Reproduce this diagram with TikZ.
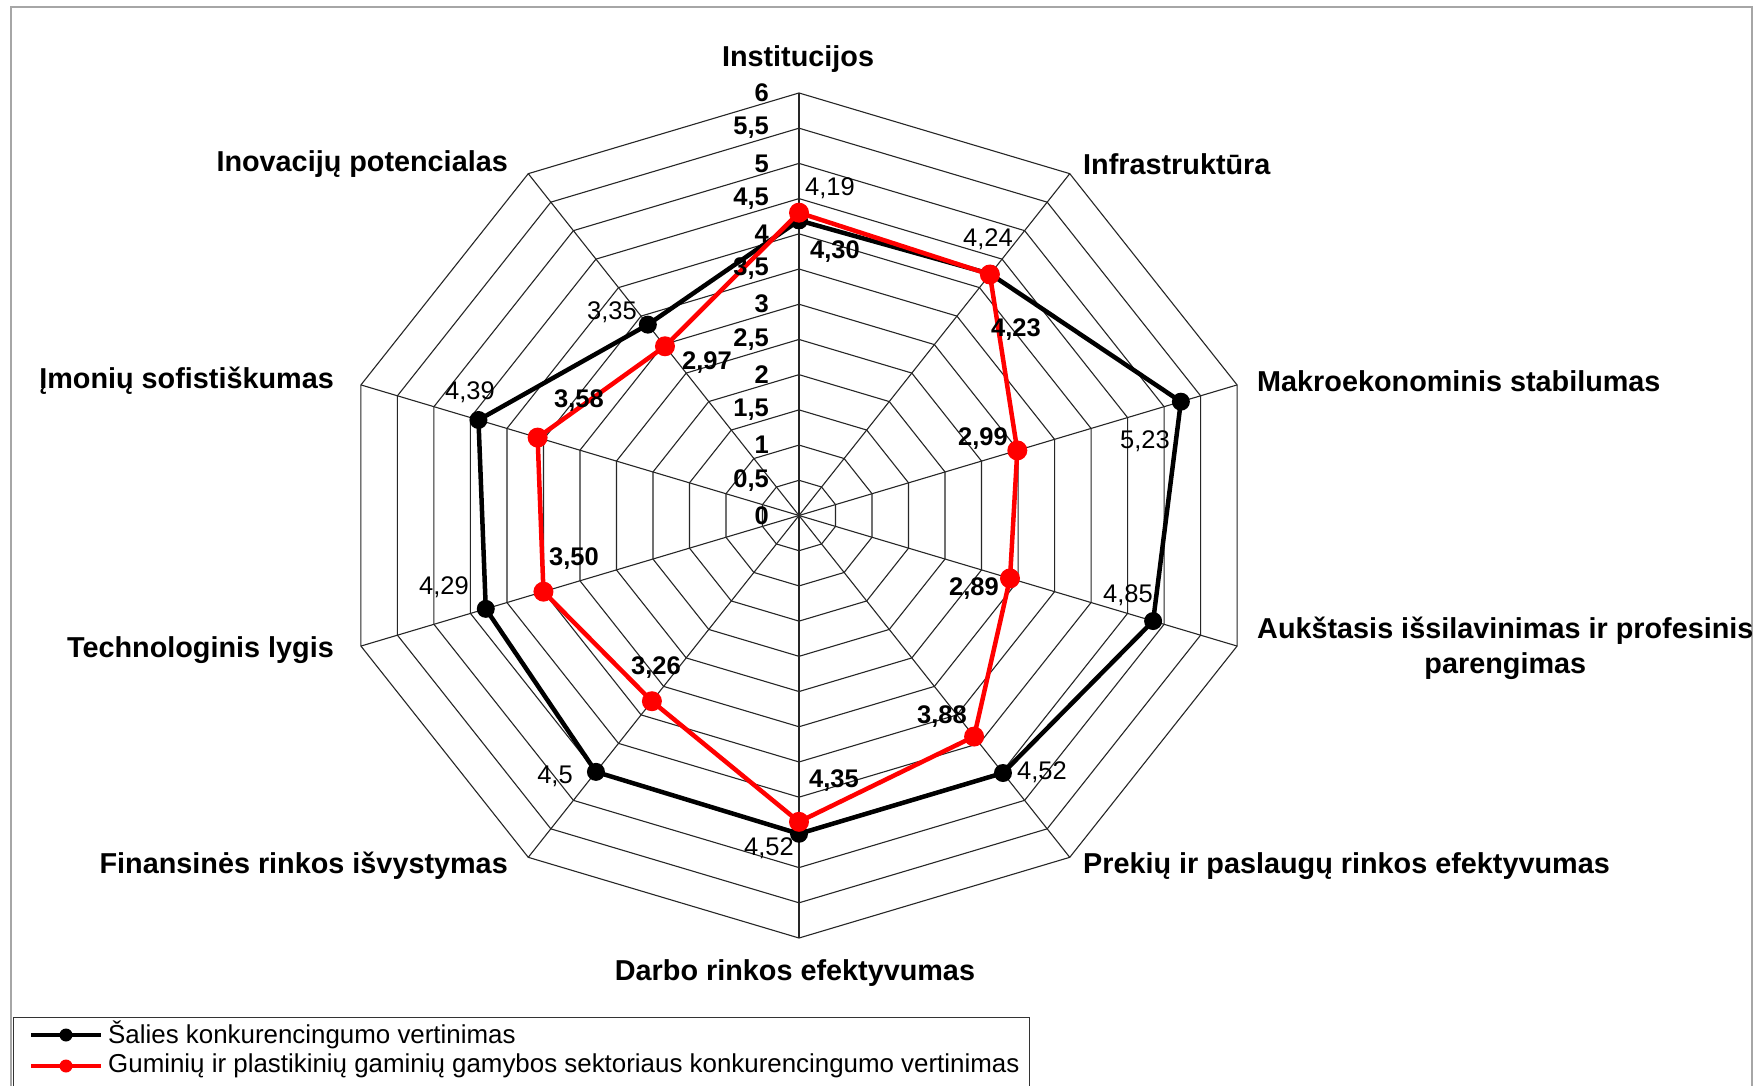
\documentclass[tikz,border=0pt]{standalone}
\usepackage{fontspec}
\setmainfont{Liberation Sans}
\usetikzlibrary{calc}
\begin{document}
\begin{tikzpicture}[x=1pt,y=1pt,
  cat/.style={font=\fontsize{28.8}{35}\selectfont\bfseries, inner sep=0pt},
  tick/.style={font=\fontsize{25.5}{30}\selectfont\bfseries, inner sep=0pt, anchor=east},
  lblk/.style={font=\fontsize{25.5}{30}\selectfont, inner sep=0pt},
  lred/.style={font=\fontsize{25.5}{30}\selectfont\bfseries, inner sep=0pt},
  leg/.style={font=\fontsize{25.9}{30}\selectfont, inner sep=0pt, anchor=west},
  gridline/.style={line width=1.1pt, black!85},
  serk/.style={line width=4.5pt, black, line join=round},
  serr/.style={line width=4.5pt, red, line join=round}]
\useasboundingbox (0,0) rectangle (1758,1085);
\fill[white] (0,0) rectangle (1758,1085);
% outer frame
\draw[black!35, line width=2.5pt] (11,-10) -- (11,1078) -- (1752,1078) -- (1752,-10);

\begin{scope}[shift={(799pt,569.5pt)}, x=76.77pt, y=70.42pt]
  \coordinate (O) at (0,0);
  % rings
  \foreach \r in {0.5,1,...,6}
    \draw[gridline] (90:\r) -- (54:\r) -- (18:\r) -- (-18:\r) -- (-54:\r) -- (-90:\r)
      -- (-126:\r) -- (-162:\r) -- (162:\r) -- (126:\r) -- cycle;
  % spokes
  \foreach \a in {90,54,18,-18,-54,-90,-126,-162,162,126}
    \draw[gridline] (O) -- (\a:6);
  % black series
  \coordinate (k1) at (90:4.19);
  \coordinate (k2) at (54:4.24);
  \coordinate (k3) at (18:5.23);
  \coordinate (k4) at (-18:4.85);
  \coordinate (k5) at (-54:4.52);
  \coordinate (k6) at (-90:4.52);
  \coordinate (k7) at (-126:4.5);
  \coordinate (k8) at (-162:4.29);
  \coordinate (k9) at (162:4.39);
  \coordinate (k10) at (126:3.35);
  \draw[serk] (k1) -- (k2) -- (k3) -- (k4) -- (k5) -- (k6) -- (k7) -- (k8) -- (k9) -- (k10) -- cycle;
  \foreach \p in {k1,k2,k3,k4,k5,k6,k7,k8,k9,k10}
    \fill[black] (\p) circle[radius=9pt];
  % red series
  \coordinate (r1) at (90:4.30);
  \coordinate (r2) at (54:4.23);
  \coordinate (r3) at (18:2.99);
  \coordinate (r4) at (-18:2.89);
  \coordinate (r5) at (-54:3.88);
  \coordinate (r6) at (-90:4.35);
  \coordinate (r7) at (-126:3.26);
  \coordinate (r8) at (-162:3.50);
  \coordinate (r9) at (162:3.58);
  \coordinate (r10) at (126:2.97);
  \draw[serr] (r1) -- (r2) -- (r3) -- (r4) -- (r5) -- (r6) -- (r7) -- (r8) -- (r9) -- (r10) -- cycle;
  \foreach \p in {r1,r2,r3,r4,r5,r6,r7,r8,r9,r10}
    \fill[red] (\p) circle[radius=10pt];
\end{scope}

% axis tick labels
\foreach \k/\t in {0/0,1/{0,5},2/1,3/{1,5},4/2,5/{2,5},6/3,7/{3,5},8/4,9/{4,5},10/5,11/{5,5},12/6}
  \node[tick] (t\k) at (769, 569.5+35.21*\k) {\t};

% category labels
\node[cat] (c1) at (798,1026) {Institucijos};
\node[cat, anchor=west] (c2) at (1083,921) {Infrastruktūra};
\node[cat, anchor=west] (c3) at (1257,704) {Makroekonominis stabilumas};
\node[cat, anchor=west, align=center] (c4) at (1257,437) {Aukštasis išsilavinimas ir profesinis\\parengimas};
\node[cat, anchor=west] (c5) at (1083,219) {Prekių ir paslaugų rinkos efektyvumas};
\node[cat] (c6) at (795,112) {Darbo rinkos efektyvumas};
\node[cat, anchor=east] (c7) at (508,219) {Finansinės rinkos išvystymas};
\node[cat, anchor=east] (c8) at (334,435) {Technologinis lygis};
\node[cat, anchor=east] (c9) at (334,704) {Įmonių sofistiškumas};
\node[cat, anchor=east] (c10) at (508,921) {Inovacijų potencialas};

% black data labels
\node[lblk] (lk1) at (830,897) {4,19};
\node[lblk] (lk2) at (988,846) {4,24};
\node[lblk] (lk3) at (1145,644) {5,23};
\node[lblk] (lk4) at (1128,490) {4,85};
\node[lblk] (lk5) at (1042,313) {4,52};
\node[lblk] (lk6) at (769,237) {4,52};
\node[lblk] (lk7) at (555,309) {4,5};
\node[lblk] (lk8) at (444,498) {4,29};
\node[lblk] (lk9) at (470,693) {4,39};
\node[lblk] (lk10) at (612,773) {3,35};
% red data labels
\node[lred] (lr1) at (835,833) {4,30};
\node[lred] (lr2) at (1016,755) {4,23};
\node[lred] (lr3) at (983,646) {2,99};
\node[lred] (lr4) at (974,496) {2,89};
\node[lred] (lr5) at (942,368) {3,88};
\node[lred] (lr6) at (834,304) {4,35};
\node[lred] (lr7) at (656,417) {3,26};
\node[lred] (lr8) at (574,526) {3,50};
\node[lred] (lr9) at (579,684) {3,58};
\node[lred] (lr10) at (707,722) {2,97};

% legend
\draw[draw=black!80, fill=white, line width=1pt] (13,-10) rectangle (1029,68);
\coordinate (la1) at (31,50);
\coordinate (lb1) at (101,50);
\coordinate (la2) at (31,19);
\coordinate (lb2) at (101,19);
\coordinate (lm1) at ($(la1)!0.5!(lb1)$);
\coordinate (lm2) at ($(la2)!0.5!(lb2)$);
\draw[line width=4pt, black] (la1) -- (lb1);
\fill[black] (lm1) circle[radius=6.5pt];
\draw[line width=4pt, red] (la2) -- (lb2);
\fill[red] (lm2) circle[radius=6.5pt];
\node[leg] (leg1) at (108,50) {Šalies konkurencingumo vertinimas};
\node[leg] (leg2) at (108,19) {Guminių ir plastikinių gaminių gamybos sektoriaus konkurencingumo vertinimas};
\end{tikzpicture}
\end{document}
